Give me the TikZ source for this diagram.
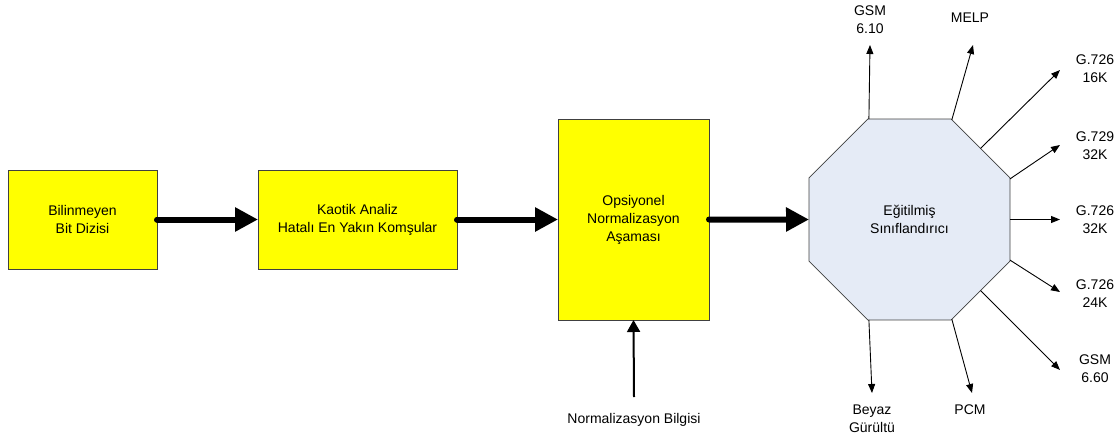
\documentclass[tikz,border=0pt]{standalone}
\usepackage{fontspec}
\setmainfont{Liberation Sans}
\usetikzlibrary{shapes.geometric,arrows.meta,calc}
\definecolor{boxyellow}{HTML}{FFFF00}
\definecolor{octfill}{HTML}{E5EBF6}
\definecolor{edgegray}{HTML}{404040}
\begin{document}
\begin{tikzpicture}[x=1pt,y=-1pt,
  every node/.style={font=\fontsize{14}{18}\selectfont, align=center, inner sep=0pt, outer sep=0pt},
  stage/.style={draw=edgegray, fill=boxyellow, line width=0.8pt},
  classifier/.style={draw=edgegray, fill=octfill, line width=0.8pt, regular polygon, regular polygon sides=8, minimum size=217.56pt},
  flow/.style={line width=6pt, line cap=round, -{Triangle[length=23pt,width=23pt]}},
  inarrow/.style={line width=2pt, -{Triangle[length=12pt,width=13pt]}},
  outarrow/.style={line width=0.9pt, -{Triangle[length=9pt,width=7pt]}}]
\useasboundingbox (0,0) rectangle (1120,434);

% processing chain
\node[stage, minimum width=149pt, minimum height=99pt] (bit) at (82.5,219.5) {Bilinmeyen\\Bit Dizisi};
\node[stage, minimum width=199pt, minimum height=99pt] (kao) at (357.5,219.5) {Kaotik Analiz\\Hatalı En Yakın Komşular};
\node[stage, minimum width=151pt, minimum height=201pt] (norm) at (633.5,219.5) {Opsiyonel\\Normalizasyon\\Aşaması};
\node[classifier] (cls) at (909.5,219.5) {Eğitilmiş\\Sınıflandırıcı};

\draw[flow] (bit.east) -- (kao.west);
\draw[flow] (kao.east) -- (norm.west);
\draw[flow] (norm.east) -- (cls.west);

% normalisation input
\node (nbl) at (634,420) {Normalizasyon Bilgisi};
\coordinate (nbs) at (634,397);
\draw[inarrow] (nbs) -- (norm.south);

% classifier outputs
\coordinate (t1) at (870,45);
\coordinate (t2) at (973,45);
\coordinate (t3) at (1060,70);
\coordinate (t4) at (1060,145);
\coordinate (t5) at (1060,219.5);
\coordinate (t6) at (1060,292);
\coordinate (t7) at (1060,370);
\coordinate (t8) at (872,393);
\coordinate (t9) at (972,393);

\draw[outarrow] (cls.112.5) -- (t1);
\draw[outarrow] (cls.67.5) -- (t2);
\draw[outarrow] (cls.45) -- (t3);
\draw[outarrow] (cls.22.5) -- (t4);
\draw[outarrow] (cls.0) -- (t5);
\draw[outarrow] (cls.-22.5) -- (t6);
\draw[outarrow] (cls.-45) -- (t7);
\draw[outarrow] (cls.-112.5) -- (t8);
\draw[outarrow] (cls.-67.5) -- (t9);

\node (l1) at (870,19.5) {GSM\\6.10};
\node (l2) at (970,18) {MELP};
\node (l3) at (1095,69) {G.726\\16K};
\node (l4) at (1095,146) {G.729\\32K};
\node (l5) at (1095,219.5) {G.726\\32K};
\node (l6) at (1095,294) {G.726\\24K};
\node (l7) at (1095,369) {GSM\\6.60};
\node (l8) at (872,419) {Beyaz\\Gürültü};
\node (l9) at (970,410) {PCM};
\end{tikzpicture}
\end{document}
